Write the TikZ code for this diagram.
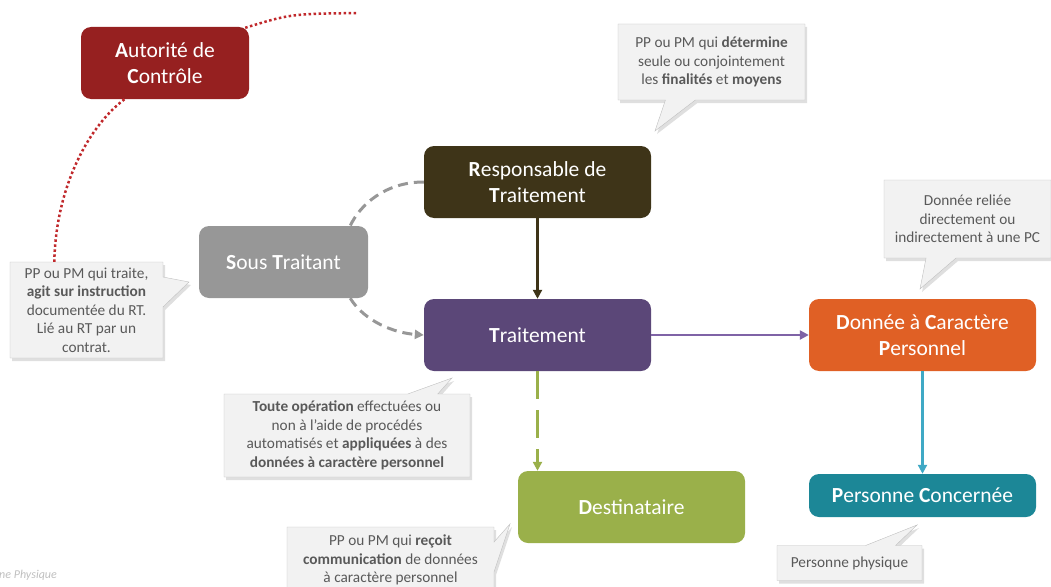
\documentclass[tikz,border=0pt]{standalone}
\usepackage{fontspec}
\setmainfont{Carlito}
\usetikzlibrary{shapes.callouts,shadows,arrows.meta,calc}
\definecolor{acrouge}{HTML}{962020}
\definecolor{rtbrun}{HTML}{3E3418}
\definecolor{stgris}{HTML}{979797}
\definecolor{trviolet}{HTML}{5B4778}
\definecolor{dcporange}{HTML}{E06025}
\definecolor{destvert}{HTML}{9AB04A}
\definecolor{pcbleu}{HTML}{1C8797}
\definecolor{flechebleu}{HTML}{3FA9C5}
\definecolor{flecheviolet}{HTML}{7F63A6}
\definecolor{bullefond}{HTML}{F2F2F2}
\definecolor{bullebord}{HTML}{BFBFBF}
\definecolor{bulletexte}{HTML}{595959}
\definecolor{pointrouge}{HTML}{C0282B}
\tikzset{bloc/.style={rounded corners=10pt, text=white, align=center,
        minimum width=227pt, minimum height=72pt, inner sep=2pt,
        font=\fontsize{21.5}{26}\selectfont},
    bulle/.style={rectangle callout, fill=bullefond, draw=bullebord,
        text=bulletexte, align=center, inner sep=2pt,
        callout pointer width=30pt,
        font=\fontsize{15.3}{18.6}\selectfont,
        drop shadow={shadow xshift=2pt, shadow yshift=-3pt, opacity=0.25}},
    lien/.style={line width=2.8pt, -{Triangle[length=9pt,width=9pt]}},
    }
\begin{document}
\begin{tikzpicture}[x=1pt,y=-1pt]
	\useasboundingbox (0,0) rectangle (1051,586);
	% noeuds
	\node[bloc, fill=acrouge, minimum width=168pt] (ac) at (165,63)
		{\textbf{A}utorité de\\\textbf{C}ontrôle};
	\node[bloc, fill=rtbrun] (rt) at (537.5,182)
		{\textbf{R}esponsable de\\\textbf{T}raitement};
	\node[bloc, fill=stgris, minimum width=169pt] (st) at (283.5,262)
		{\textbf{S}ous \textbf{T}raitant};
	\node[bloc, fill=trviolet] (tr) at (537.5,335) {\textbf{T}raitement};
	\node[bloc, fill=dcporange] (dcp) at (922.5,335)
		{\textbf{D}onnée à \textbf{C}aractère\\\textbf{P}ersonnel};
	\node[bloc, fill=destvert] (dest) at (631.5,507) {\textbf{D}estinataire};
	\node[bloc, fill=pcbleu, minimum height=43pt] (pc) at (922.5,495.5)
		{\textbf{P}ersonne \textbf{C}oncernée};
	% bulles
	\node[bulle, minimum width=187pt, minimum height=76pt,
		callout absolute pointer={(655,131)}] (brt) at (711.5,62)
		{PP ou PM qui \textbf{détermine}\\seule ou conjointement\\les \textbf{finalités} et \textbf{moyens}};
	\node[bulle, minimum width=153pt, minimum height=96pt,
		callout absolute pointer={(189,282)}] (bst) at (86.5,310)
		{PP ou PM qui traite,\\\textbf{agit sur instruction}\\documentée du RT.\\Lié au RT par un\\contrat.};
	\node[bulle, minimum width=246pt, minimum height=83pt,
		callout absolute pointer={(452,378)}] (btr) at (347,435.5)
		{\textbf{Toute opération} effectuées ou\\non à l'aide de procédés\\automatisés et \textbf{appliquées} à des\\\textbf{données à caractère personnel}};
	\node[bulle, minimum width=167pt, minimum height=78pt,
		callout absolute pointer={(920,289)}] (bdcp) at (967.5,219)
		{Donnée reliée\\directement ou\\indirectement à une PC};
	\node[bulle, minimum width=207pt, minimum height=66pt,
		callout absolute pointer={(510,524)}] (bdest) at (390.5,560)
		{PP ou PM qui \textbf{reçoit}\\\textbf{communication} de données\\à caractère personnel};
	\node[bulle, minimum width=145pt, minimum height=35pt,
		callout absolute pointer={(917,525)}] (bpc) at (849.5,563)
		{Personne physique};
	\node[anchor=west, text=bullebord, font=\fontsize{12}{14}\selectfont\itshape, inner sep=0pt]
		(legende) at (-1,575) {ne Physique};
	% liens
	\coordinate (bout) at (357,13);
	\draw[pointrouge, line width=2.5pt, dash pattern=on 2.5pt off 2.5pt]
		($(bst.north west)!0.29!(bst.north east)$) .. controls (56,185) and (90,125) ..
		($(ac.south west)!0.26!(ac.south east)$);
	\draw[pointrouge, line width=2.5pt, dash pattern=on 2.5pt off 2.5pt]
		($(ac.north east)+(-4,1)$) .. controls (290,14) .. (bout);
	\draw[stgris, line width=3pt, dash pattern=on 10pt off 6pt]
		(rt.west) .. controls (385,182) and (360,205) .. ($(st.north east)+(-18,0)$);
	\draw[stgris, line width=3pt, dash pattern=on 10pt off 6pt,
		-{Triangle[length=9pt,width=9pt]}]
		($(st.south east)+(-18,0)$) .. controls (365,322) and (395,333) .. (tr.west);
	\draw[lien, rtbrun] (rt) -- (tr);
	\draw[lien, flecheviolet] (tr) -- (dcp);
	\draw[lien, destvert, line width=3.5pt, dash pattern=on 28pt off 11pt]
		(tr.south) -- (tr.south |- dest.north);
	\draw[lien, flechebleu] (dcp) -- (pc);
\end{tikzpicture}
\end{document}
